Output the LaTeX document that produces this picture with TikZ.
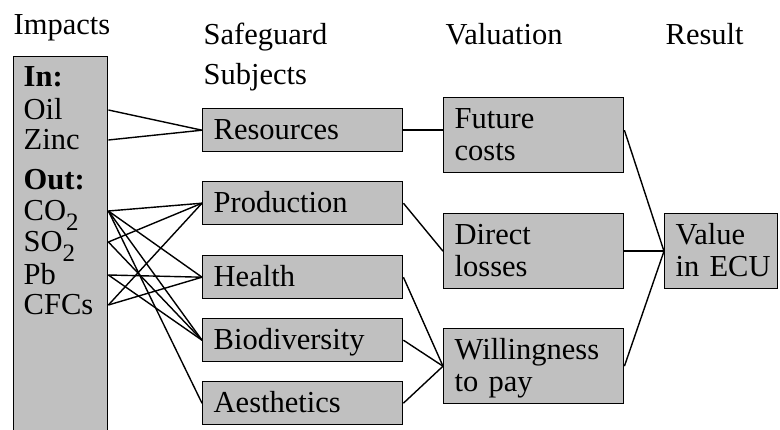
\documentclass[tikz,border=0pt]{standalone}
\usepackage{fontspec}
\setmainfont{Liberation Serif}
\definecolor{boxgray}{RGB}{192,192,192}
\newcommand{\lowsub}[1]{\raisebox{-0.3em}{\fontsize{25}{25}\selectfont #1}}

\begin{document}
\begin{tikzpicture}[x=1pt,y=-1pt,line width=1.4pt,font=\fontsize{30.5}{32}\selectfont]
   \tikzset{BoxStyle/.style={draw,fill=boxgray,anchor=north west,align=left,inner xsep=11pt,inner ysep=4pt,text height=27pt,text depth=8pt,text width=#1}}
   \tikzset{TwoStyle/.style={BoxStyle=#1,text depth=40pt}}
   \tikzset{HeadStyle/.style={anchor=base west,inner sep=0pt,align=left}}
   \tikzset{ItemStyle/.style={anchor=base west,inner sep=0pt,text height=20pt,text depth=0pt}}
   \useasboundingbox (0,0) rectangle (780,430);
   % column heads
   \node[HeadStyle] (hImp) at (13,35) {Impacts};
   \node[HeadStyle,text width=160pt,font=\fontsize{30.5}{40}\selectfont] (hSafe) at (203,45) {Safeguard\\Subjects};
   \node[HeadStyle] (hVal) at (445,45) {Valuation};
   \node[HeadStyle] (hRes) at (665,45) {Result};
   % impacts column
   \node[draw,fill=boxgray,anchor=north west,minimum width=94pt,minimum height=420pt,inner sep=0pt] (impacts) at (13,56) {};
   \node[ItemStyle] (inlabel) at (23,87) {\textbf{In:}};
   \node[ItemStyle] (oil) at (23,120) {Oil};
   \node[ItemStyle] (zinc) at (23,150) {Zinc};
   \node[ItemStyle] (outlabel) at (23,190) {\textbf{Out:}};
   \node[ItemStyle] (co) at (23,221) {CO\lowsub{2}};
   \node[ItemStyle] (so) at (23,252) {SO\lowsub{2}};
   \node[ItemStyle] (pb) at (23,285) {Pb};
   \node[ItemStyle] (cfc) at (23,315) {CFCs};
   % safeguard subjects
   \node[BoxStyle=178pt] (res) at (202,108) {Resources};
   \node[BoxStyle=178pt] (prod) at (202,181) {Production};
   \node[BoxStyle=178pt] (health) at (202,255) {Health};
   \node[BoxStyle=178pt] (bio) at (202,318) {Biodiversity};
   \node[BoxStyle=178pt] (aes) at (202,381) {Aesthetics};
   % valuation and result
   \node[TwoStyle=158pt] (fut) at (443,97) {Future\\costs};
   \node[TwoStyle=158pt] (dir) at (443,213) {Direct\\losses};
   \node[TwoStyle=158pt] (wil) at (443,328) {Willingness\\to pay};
   \node[TwoStyle=91pt] (val) at (664,213) {Value\\in~ECU};
   % links
   \draw (oil -| impacts.east) -- (res.west);
   \draw (zinc -| impacts.east) -- (res.west);
   \foreach \a/\b in {co/prod,co/health,co/bio,co/aes,so/prod,so/bio,pb/health,pb/bio,cfc/prod,cfc/health}
      \draw (\a -| impacts.east) -- (\b.west);
   \draw (res.east) -- (res.east -| fut.west);
   \draw (prod.east) -- (dir.west);
   \foreach \s in {health,bio,aes}
      \draw (\s.east) -- (wil.west);
   \draw (fut.east |- res.east) -- (val.west);
   \draw (dir.east) -- (val.west);
   \draw (wil.east) -- (val.west);
\end{tikzpicture}
\end{document}
